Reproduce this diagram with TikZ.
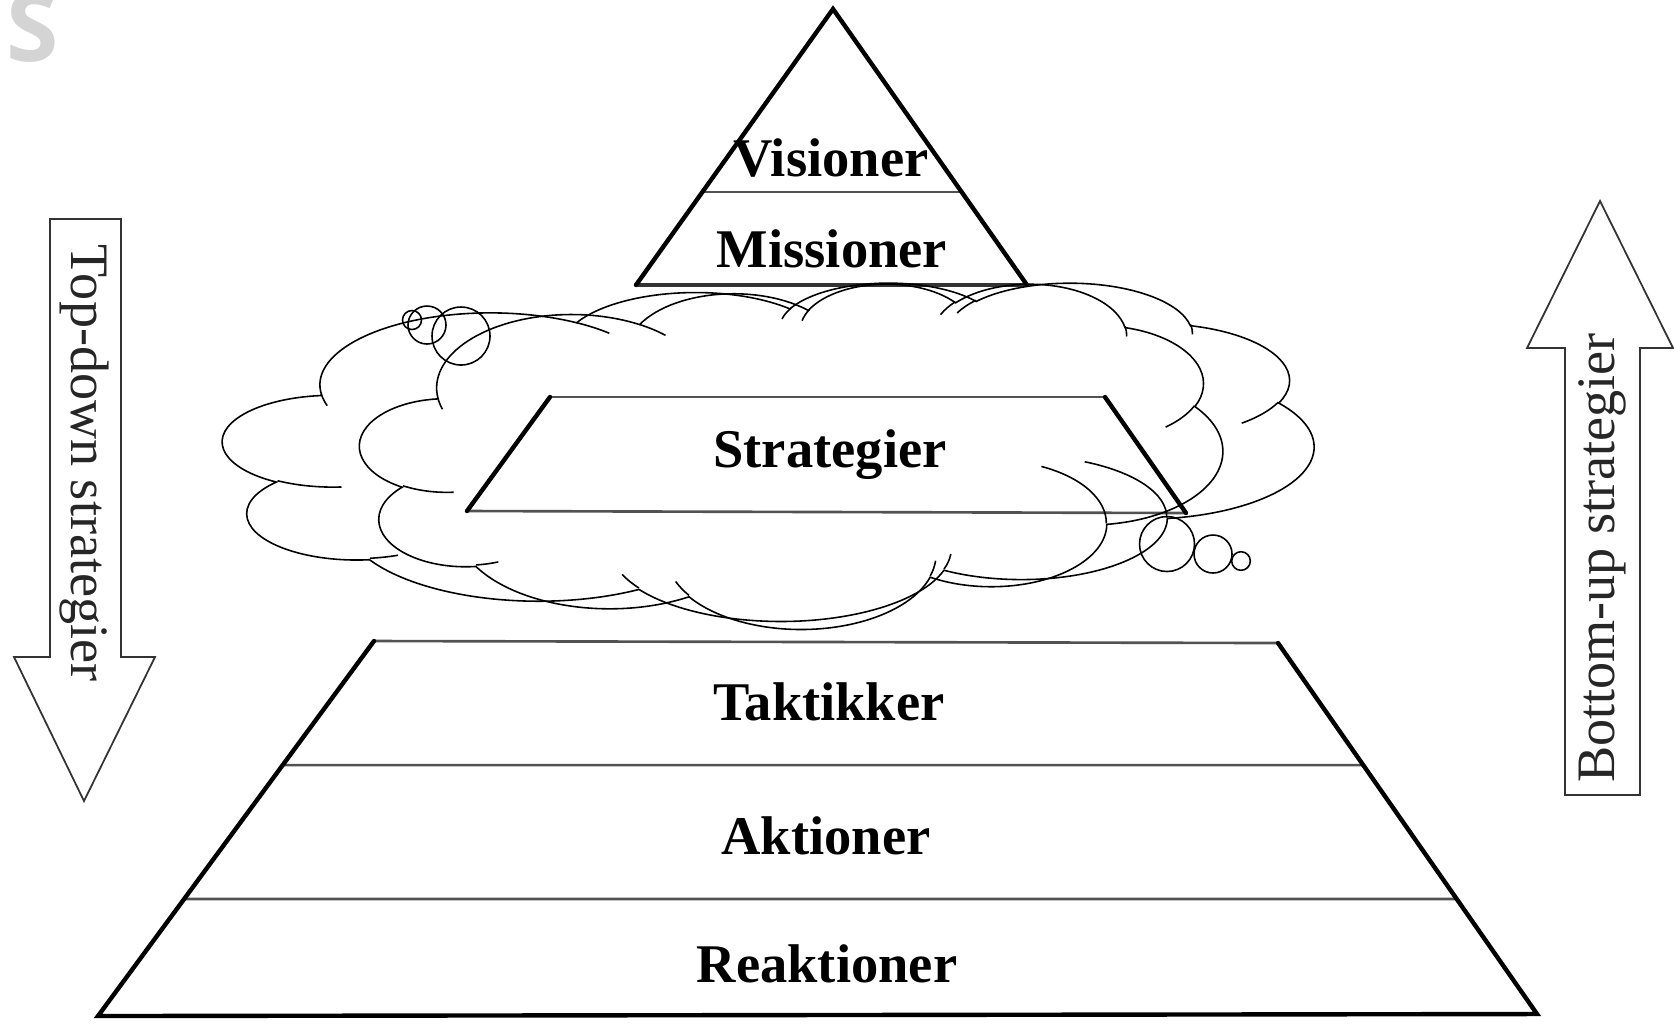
\documentclass[tikz,border=0pt]{standalone}
\usepackage{fontspec}
\setmainfont{Liberation Serif}
\newfontfamily\wmfont{Open Sans}
\usetikzlibrary{calc}

\tikzset{
  carc/.style n args={4}{insert path={arc[x radius=#1, y radius=#2,
     start angle={atan2((#1)*sin(#3),(#2)*cos(#3))},
     delta angle={mod(atan2((#1)*sin((#3)+(#4)),(#2)*cos((#3)+(#4)))-atan2((#1)*sin(#3),(#2)*cos(#3))+720,360)}]}},
  cloudline/.style={line width=0.45pt, black},
  thickedge/.style={line width=1.25pt, black, line cap=round},
  thinedge/.style={line width=0.75pt, black!68},
  arrowshape/.style={line width=0.5pt, black!80, line join=miter},
  lbl/.style={inner sep=0pt, font=\bfseries\fontsize{15.5}{18}\selectfont},
  sidelbl/.style={inner sep=0pt, text=black!85, font=\fontsize{15.4}{18}\selectfont},
}

\newcommand\cloudbody{%
  \draw[cloudline] (3.900,14.370)
    [carc={6.753}{9.190}{-190.4875}{123.7805}]
    [carc={5.333}{7.267}{-144.1024}{89.9452}]
    [carc={4.365}{5.945}{-145.8079}{99.7230}]
    [carc={4.857}{6.595}{-130.9861}{117.2417}]
    [carc={5.333}{7.273}{-78.7089}{109.0269}]
    [carc={6.775}{9.220}{-46.2673}{130.2690}]
    [carc={5.785}{7.867}{0.6250}{114.0333}]
    [carc={6.752}{9.215}{22.4516}{115.1726}]
    [carc={7.720}{10.543}{66.2426}{75.7110}]
    [carc={4.360}{5.918}{-274.9421}{146.7356}]
    [carc={4.345}{5.945}{-246.8285}{152.5189}] -- cycle;
  \draw[cloudline]
    (4.693,26.177) [carc={4.345}{5.945}{86.7420}{26.4295}]
    (6.928,34.899) [carc={4.360}{5.918}{73.6105}{11.4475}]
    (16.478,39.090) [carc={6.752}{9.215}{137.6242}{14.0811}]
    (28.827,34.751) [carc={6.752}{9.215}{6.4533}{15.9984}]
    (34.129,22.954) [carc={5.785}{7.867}{-70.2924}{70.9174}]
    (41.798,15.354) [carc={5.333}{7.273}{30.3180}{27.7515}]
    (38.324,5.426) [carc={4.857}{6.595}{-13.7443}{14.8572}]
    (29.078,3.952) [carc={4.857}{6.595}{-149.1815}{18.1954}]
    (22.141,4.720) [carc={4.365}{5.945}{-163.4943}{17.6864}]
    (14.000,5.192) [carc={6.753}{9.190}{-66.7070}{12.3194}]
    (4.127,15.789) [carc={6.753}{9.190}{157.6544}{11.8582}];
}

\begin{document}
\begin{tikzpicture}[x=0.01cm, y=-0.01cm]
\useasboundingbox (0,0) rectangle (1674,1023);

% watermark letter
\node[anchor=base west, inner sep=0pt, text=black!17,
      font=\wmfont\bfseries\fontsize{27}{27}\selectfont] (wm) at (6,61) {S};

% ---------- top triangle ----------
\coordinate (apex) at (833,9);
\coordinate (tbl) at (636,285);
\coordinate (tbr) at (1027,285);
\coordinate (tdl) at ($(apex)!0.663!(tbl)$);
\coordinate (tdr) at ($(apex)!0.663!(tbr)$);
\draw[thinedge] (tdl) -- (tdr);
\draw[line width=0.9pt, black!80] (tbl) -- (tbr);
\draw[thickedge, line join=miter] (tbl) -- (apex) -- (tbr);
\node[lbl, anchor=base] (vis) at (831,176) {Visioner};
\node[lbl, anchor=base] (mis) at (832,267) {Missioner};

% ---------- strategy trapezoid ----------
\coordinate (stl) at (550,397);
\coordinate (sttr) at (1105,397);
\coordinate (sbl) at (467,511);
\coordinate (sbr) at (1186,513);
\draw[thinedge] (stl) -- (sttr);
\draw[thinedge] (sbl) -- (sbr);
\draw[thickedge] (stl) -- (sbl);
\draw[thickedge] (sttr) -- (sbr);
\node[lbl, anchor=base] (strat) at (830,467) {Strategier};

% ---------- lower trapezoid ----------
\coordinate (ltl) at (374,641);
\coordinate (ltr) at (1278,643);
\coordinate (lbl) at (98,1016);
\coordinate (lbr) at (1537,1014);
\draw[thinedge] (ltl) -- (ltr);
\draw[thinedge] ($(ltl)!0.331!(lbl)$) -- ($(ltr)!0.329!(lbr)$);
\draw[thinedge] ($(ltl)!0.688!(lbl)$) -- ($(ltr)!0.690!(lbr)$);
\draw[thickedge, line join=miter] (ltl) -- (lbl) -- (lbr) -- (ltr);
\node[lbl, anchor=base] (tak) at (829,720) {Taktikker};
\node[lbl, anchor=base] (akt) at (826,854) {Aktioner};
\node[lbl, anchor=base] (rea) at (827,982) {Reaktioner};

% ---------- clouds ----------
\begin{scope}[shift={(223,282)}, x=0.252315cm, y=-0.078241cm]
  \cloudbody
\end{scope}
\begin{scope}[shift={(360,283)}, x=0.199537cm, y=-0.079861cm]
  \cloudbody
\end{scope}

% thought bubbles
\draw[cloudline] (412,320) circle[radius=9.5];
\draw[cloudline] (427,325) circle[radius=19];
\draw[cloudline] (461,336) circle[radius=29];
\draw[cloudline] (1167,544) circle[radius=27.5];
\draw[cloudline] (1213,554) circle[radius=19];
\draw[cloudline] (1241,561) circle[radius=9.3];

% ---------- side arrows ----------
\coordinate (la1) at (50,219);
\coordinate (la2) at (121,219);
\coordinate (la3) at (121,657);
\coordinate (la4) at (155,657);
\coordinate (latip) at (84,801);
\coordinate (la6) at (14,657);
\coordinate (la7) at (50,657);
\draw[arrowshape] (la1) -- (la2) -- (la3) -- (la4) -- (latip) -- (la6) -- (la7) -- cycle;
\node[sidelbl, rotate=-90] (td) at (84,463) {Top-down strategier};

\coordinate (ra1) at (1565,795);
\coordinate (ra2) at (1640,795);
\coordinate (ra3) at (1640,348);
\coordinate (ra4) at (1673,348);
\coordinate (ratip) at (1600,201);
\coordinate (ra6) at (1527,348);
\coordinate (ra7) at (1565,348);
\draw[arrowshape] (ra1) -- (ra2) -- (ra3) -- (ra4) -- (ratip) -- (ra6) -- (ra7) -- cycle;
\node[sidelbl, rotate=90] (bu) at (1602,558) {Bottom-up strategier};
\end{tikzpicture}
\end{document}
